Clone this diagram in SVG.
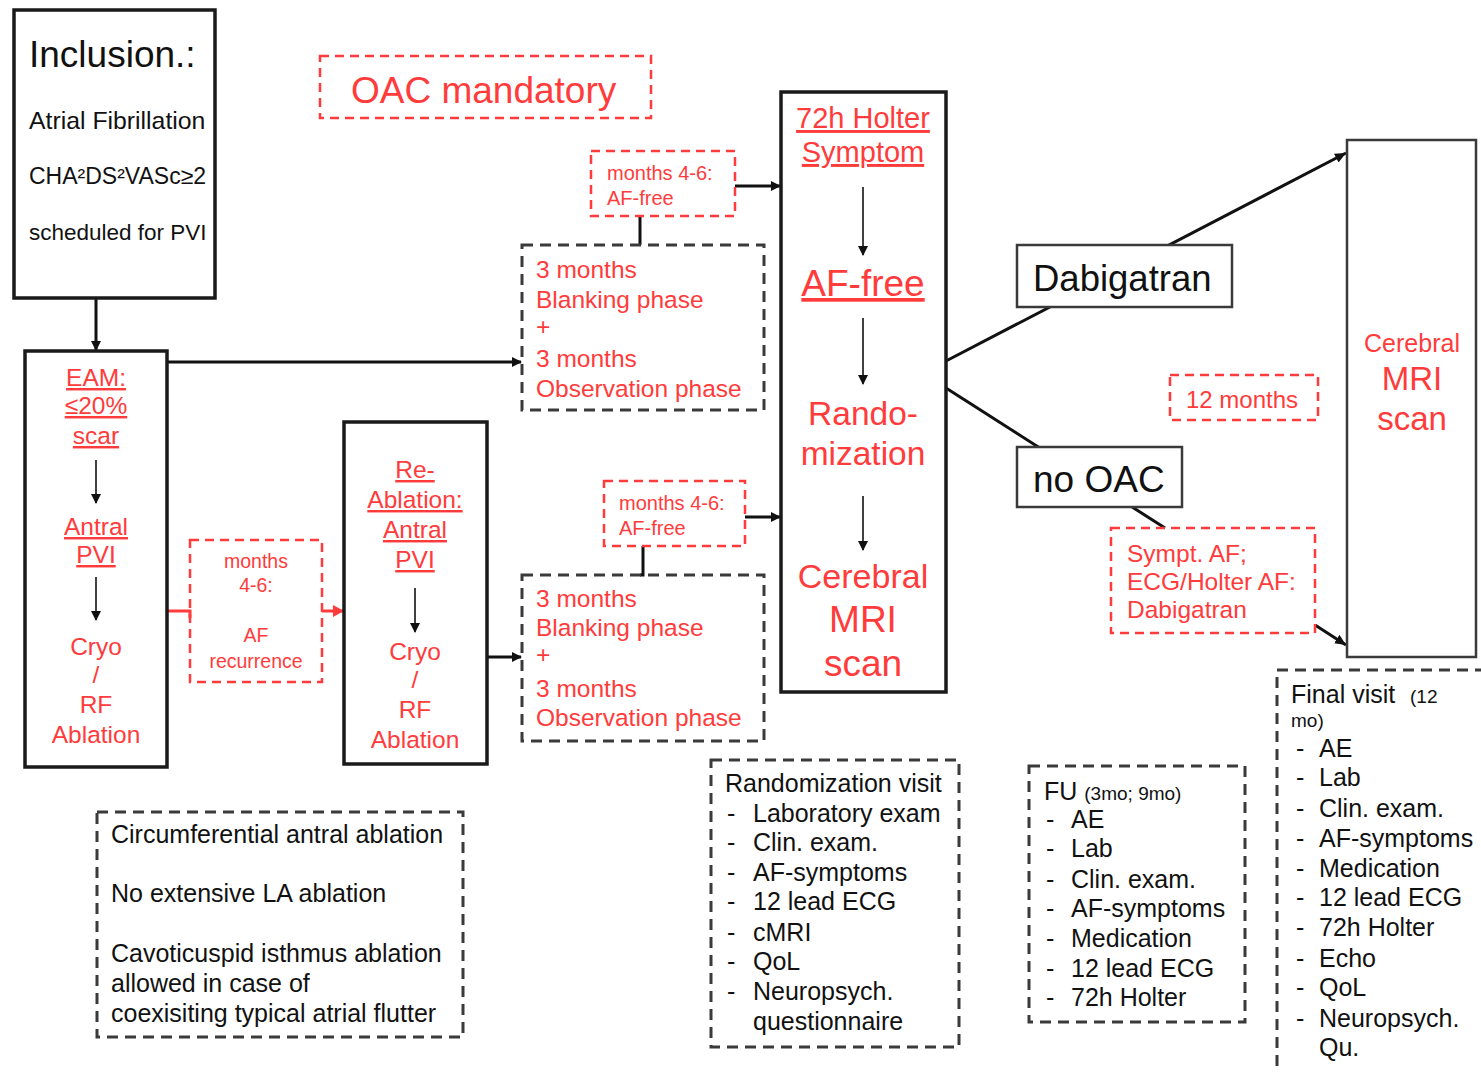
<svg xmlns="http://www.w3.org/2000/svg" width="1481" height="1073" viewBox="0 0 1481 1073">
<style>
text{font-family:"Liberation Sans",Arial,sans-serif;}
.r{fill:#ff3b3b;}
.k{fill:#111;}
.c{text-anchor:middle;}
.u{text-decoration:underline;}
.box{fill:#fff;stroke:#1a1a1a;stroke-width:3.5;}
.gbox{fill:#fff;stroke:#3a3a3a;stroke-width:2.5;}
.dk{fill:none;stroke:#3a3a3a;stroke-width:3;stroke-dasharray:11 7;}
.dr{fill:none;stroke:#ff3b3b;stroke-width:2.5;stroke-dasharray:9 6;}
.ln{fill:none;stroke:#111;stroke-width:3;}
.th{fill:none;stroke:#111;stroke-width:1.6;}
.lr{fill:none;stroke:#ff3b3b;stroke-width:3;}
</style>
<defs>
<marker id="ah" markerWidth="10" markerHeight="10" refX="9" refY="5" orient="auto" markerUnits="userSpaceOnUse"><path d="M0,0 L10,5 L0,10 z" fill="#111"/></marker>
<marker id="ahs" markerWidth="12" markerHeight="12" refX="11" refY="6" orient="auto" markerUnits="userSpaceOnUse"><path d="M0,1 L11,6 L0,11 z" fill="#111"/></marker>
<marker id="ahr" markerWidth="12" markerHeight="12" refX="11" refY="6" orient="auto" markerUnits="userSpaceOnUse"><path d="M0,0 L11,6 L0,12 z" fill="#ff3b3b"/></marker>
</defs>

<g id="connectors">
<line class="ln" x1="96" y1="298" x2="96" y2="350" marker-end="url(#ah)"/>
<line class="ln" x1="167" y1="362" x2="521" y2="362" marker-end="url(#ah)"/>
<line class="ln" x1="487" y1="657" x2="521" y2="657" marker-end="url(#ah)"/>
<line class="ln" x1="640" y1="216" x2="640" y2="245"/>
<line class="ln" x1="735" y1="186" x2="780" y2="186" marker-end="url(#ah)"/>
<polyline class="ln" points="643,546 643,575 640,575"/>
<line class="ln" x1="745" y1="517" x2="780" y2="517" marker-end="url(#ah)"/>
<polyline class="lr" points="167,611 190,611 190,618"/>
<line class="lr" x1="322" y1="611" x2="344" y2="611" marker-end="url(#ahr)"/>
<line class="ln" x1="946" y1="361" x2="1346" y2="153" marker-end="url(#ahs)"/>
<line class="ln" x1="946" y1="388" x2="1165" y2="528"/>
<line class="ln" x1="1315" y1="625" x2="1346" y2="645" marker-end="url(#ahs)"/>
</g>

<g id="inclusion">
<rect class="box" x="14" y="10" width="201" height="288"/>
<text class="k" x="29" y="67" font-size="37">Inclusion.:</text>
<text class="k" x="29" y="129" font-size="24.8">Atrial Fibrillation</text>
<text class="k" x="29" y="184" font-size="23">CHA²DS²VASc≥2</text>
<text class="k" x="29" y="240" font-size="22.5">scheduled for PVI</text>
</g>

<g id="oac-mandatory">
<rect class="dr" x="320" y="56" width="331" height="62"/>
<text class="r" x="351" y="103" font-size="37">OAC mandatory</text>
</g>

<g id="eam">
<rect class="box" x="25" y="351" width="142" height="416"/>
<text class="r c u" x="96" y="386" font-size="24.5">EAM:</text>
<text class="r c u" x="96" y="414" font-size="24.5">≤20%</text>
<text class="r c u" x="96" y="444" font-size="24.5">scar</text>
<line class="th" x1="96" y1="460" x2="96" y2="503" marker-end="url(#ah)"/>
<text class="r c u" x="96" y="535" font-size="24.5">Antral</text>
<text class="r c u" x="96" y="563" font-size="24.5">PVI</text>
<line class="th" x1="96" y1="577" x2="96" y2="620" marker-end="url(#ah)"/>
<text class="r c" x="96" y="655" font-size="24.5">Cryo</text>
<text class="r c" x="96" y="683" font-size="24.5">/</text>
<text class="r c" x="96" y="713" font-size="24.5">RF</text>
<text class="r c" x="96" y="743" font-size="24.5">Ablation</text>
</g>

<g id="recurrence">
<rect class="dr" x="190" y="540" width="132" height="142"/>
<text class="r c" x="256" y="568" font-size="19.5">months</text>
<text class="r c" x="256" y="592" font-size="19.5">4-6:</text>
<text class="r c" x="256" y="642" font-size="19.5">AF</text>
<text class="r c" x="256" y="668" font-size="19.5">recurrence</text>
</g>

<g id="reablation">
<rect class="box" x="344" y="422" width="143" height="342"/>
<text class="r c u" x="415" y="478" font-size="24.5">Re-</text>
<text class="r c u" x="415" y="508" font-size="24.5">Ablation:</text>
<text class="r c u" x="415" y="538" font-size="24.5">Antral</text>
<text class="r c u" x="415" y="568" font-size="24.5">PVI</text>
<line class="th" x1="415" y1="588" x2="415" y2="632" marker-end="url(#ah)"/>
<text class="r c" x="415" y="660" font-size="24.5">Cryo</text>
<text class="r c" x="415" y="688" font-size="24.5">/</text>
<text class="r c" x="415" y="718" font-size="24.5">RF</text>
<text class="r c" x="415" y="748" font-size="24.5">Ablation</text>
</g>

<g id="af-free-upper">
<rect class="dr" x="591" y="151" width="144" height="65"/>
<text class="r" x="607" y="180" font-size="20">months 4-6:</text>
<text class="r" x="607" y="205" font-size="20">AF-free</text>
</g>

<g id="phase-upper">
<rect class="dk" x="522" y="245" width="242" height="165"/>
<text class="r" x="536" y="278" font-size="24.5">3 months</text>
<text class="r" x="536" y="308" font-size="24.5">Blanking phase</text>
<text class="r" x="536" y="335" font-size="24.5">+</text>
<text class="r" x="536" y="367" font-size="24.5">3 months</text>
<text class="r" x="536" y="397" font-size="24.5">Observation phase</text>
</g>

<g id="af-free-lower">
<rect class="dr" x="604" y="481" width="141" height="65"/>
<text class="r" x="619" y="510" font-size="20">months 4-6:</text>
<text class="r" x="619" y="535" font-size="20">AF-free</text>
</g>

<g id="phase-lower">
<rect class="dk" x="522" y="575" width="242" height="166"/>
<text class="r" x="536" y="607" font-size="24.5">3 months</text>
<text class="r" x="536" y="636" font-size="24.5">Blanking phase</text>
<text class="r" x="536" y="663" font-size="24.5">+</text>
<text class="r" x="536" y="697" font-size="24.5">3 months</text>
<text class="r" x="536" y="726" font-size="24.5">Observation phase</text>
</g>

<g id="central">
<rect class="box" x="781" y="92" width="165" height="600"/>
<text class="r c u" x="863" y="128" font-size="29">72h Holter</text>
<text class="r c u" x="863" y="162" font-size="29">Symptom</text>
<line class="th" x1="863" y1="187" x2="863" y2="255" marker-end="url(#ah)"/>
<text class="r c u" x="863" y="296" font-size="37">AF-free</text>
<line class="th" x1="863" y1="318" x2="863" y2="384" marker-end="url(#ah)"/>
<text class="r c" x="863" y="425" font-size="33.5">Rando-</text>
<text class="r c" x="863" y="465" font-size="33.5">mization</text>
<line class="th" x1="863" y1="496" x2="863" y2="550" marker-end="url(#ah)"/>
<text class="r c" x="863" y="588" font-size="34">Cerebral</text>
<text class="r c" x="863" y="632" font-size="37">MRI</text>
<text class="r c" x="863" y="676" font-size="37">scan</text>
</g>

<g id="dabigatran">
<rect class="gbox" x="1017" y="245" width="215" height="62"/>
<text class="k" x="1033" y="291" font-size="36.5">Dabigatran</text>
</g>

<g id="no-oac">
<rect class="gbox" x="1017" y="447" width="165" height="60"/>
<text class="k" x="1033" y="492" font-size="37">no OAC</text>
</g>

<g id="twelve-months">
<rect class="dr" x="1170" y="375" width="148" height="45"/>
<text class="r" x="1186" y="408" font-size="24">12 months</text>
</g>

<g id="sympt-af">
<rect class="dr" x="1111" y="528" width="204" height="105"/>
<text class="r" x="1127" y="562" font-size="24.5">Sympt. AF;</text>
<text class="r" x="1127" y="590" font-size="24.5">ECG/Holter AF:</text>
<text class="r" x="1127" y="618" font-size="24.5">Dabigatran</text>
</g>

<g id="mri-final">
<rect class="gbox" x="1347" y="140" width="129" height="517"/>
<text class="r c" x="1412" y="352" font-size="25">Cerebral</text>
<text class="r c" x="1412" y="390" font-size="33">MRI</text>
<text class="r c" x="1412" y="430" font-size="33">scan</text>
</g>

<g id="ablation-notes">
<rect class="dk" x="97" y="812" width="366" height="225"/>
<text class="k" x="111" y="843" font-size="25">Circumferential antral ablation</text>
<text class="k" x="111" y="902" font-size="25">No extensive LA ablation</text>
<text class="k" x="111" y="962" font-size="25">Cavoticuspid isthmus ablation</text>
<text class="k" x="111" y="992" font-size="25">allowed in case of</text>
<text class="k" x="111" y="1022" font-size="25">coexisiting typical atrial flutter</text>
</g>

<g id="randomization-visit" font-size="25">
<rect class="dk" x="711" y="760" width="248" height="287"/>
<text class="k" x="725" y="792">Randomization visit</text>
<g class="k">
<text x="727" y="822">-</text><text x="753" y="822">Laboratory exam</text>
<text x="727" y="851">-</text><text x="753" y="851">Clin. exam.</text>
<text x="727" y="881">-</text><text x="753" y="881">AF-symptoms</text>
<text x="727" y="910">-</text><text x="753" y="910">12 lead ECG</text>
<text x="727" y="941">-</text><text x="753" y="941">cMRI</text>
<text x="727" y="970">-</text><text x="753" y="970">QoL</text>
<text x="727" y="1000">-</text><text x="753" y="1000">Neuropsych.</text>
<text x="753" y="1030">questionnaire</text>
</g>
</g>

<g id="follow-up" font-size="25">
<rect class="dk" x="1029" y="766" width="216" height="256"/>
<text class="k" x="1044" y="800">FU <tspan font-size="19">(3mo; 9mo)</tspan></text>
<g class="k">
<text x="1046" y="828">-</text><text x="1071" y="828">AE</text>
<text x="1046" y="857">-</text><text x="1071" y="857">Lab</text>
<text x="1046" y="888">-</text><text x="1071" y="888">Clin. exam.</text>
<text x="1046" y="917">-</text><text x="1071" y="917">AF-symptoms</text>
<text x="1046" y="947">-</text><text x="1071" y="947">Medication</text>
<text x="1046" y="977">-</text><text x="1071" y="977">12 lead ECG</text>
<text x="1046" y="1006">-</text><text x="1071" y="1006">72h Holter</text>
</g>
</g>

<g id="final-visit" font-size="25">
<rect class="dk" x="1277" y="670" width="220" height="410"/>
<text class="k" x="1291" y="703">Final visit <tspan x="1410" font-size="19">(12</tspan></text>
<text class="k" x="1291" y="727" font-size="19">mo)</text>
<g class="k">
<text x="1296" y="757">-</text><text x="1319" y="757">AE</text>
<text x="1296" y="786">-</text><text x="1319" y="786">Lab</text>
<text x="1296" y="817">-</text><text x="1319" y="817">Clin. exam.</text>
<text x="1296" y="847">-</text><text x="1319" y="847">AF-symptoms</text>
<text x="1296" y="877">-</text><text x="1319" y="877">Medication</text>
<text x="1296" y="906">-</text><text x="1319" y="906">12 lead ECG</text>
<text x="1296" y="936">-</text><text x="1319" y="936">72h Holter</text>
<text x="1296" y="967">-</text><text x="1319" y="967">Echo</text>
<text x="1296" y="996">-</text><text x="1319" y="996">QoL</text>
<text x="1296" y="1027">-</text><text x="1319" y="1027">Neuropsych.</text>
<text x="1319" y="1056">Qu.</text>
</g>
</g>
</svg>
